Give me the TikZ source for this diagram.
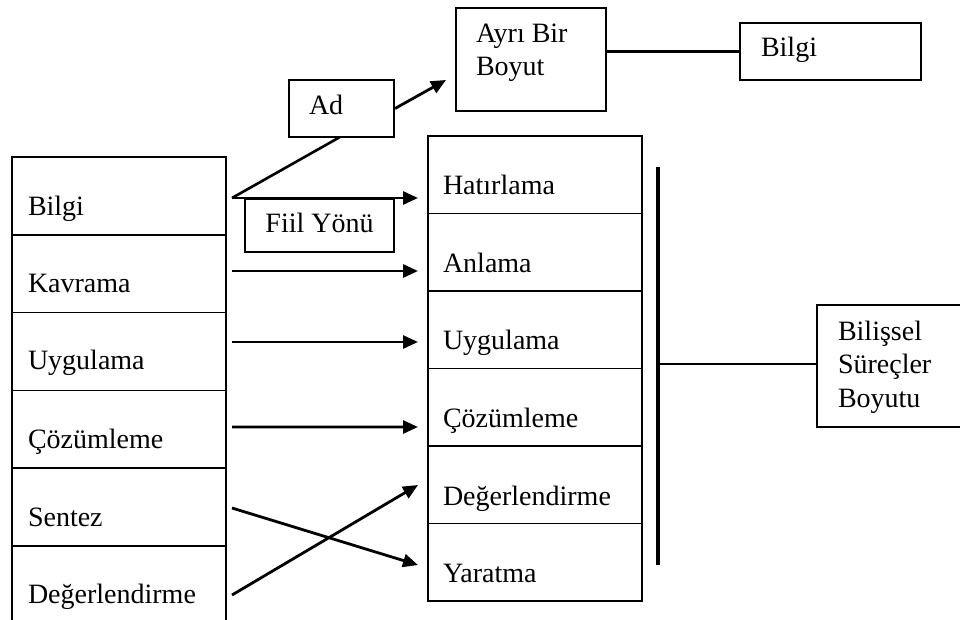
\documentclass[tikz,border=0pt]{standalone}
\usepackage{fontspec}
\setmainfont{Liberation Serif}
\usetikzlibrary{arrows.meta,calc}
\begin{document}
\begin{tikzpicture}[x=1pt,y=-1pt,
  box/.style={draw, line width=1.6pt, rectangle, inner sep=0pt, outer sep=0pt, anchor=north west},
  lcell/.style={box, minimum width=214pt, minimum height=77.8pt},
  rcell/.style={box, minimum width=214pt, minimum height=77.5pt},
  lbl/.style={anchor=base west, inner sep=0pt, outer sep=0pt, font=\fontsize{28}{33}\selectfont},
  arr/.style={line width=2.8pt, -{Triangle[length=15pt,width=13pt]}},
  conn/.style={line width=2.6pt},
  ]
\useasboundingbox (0,0) rectangle (960,620);

% left column
\node[lcell] (L1) at (12,157) {};
\node[lcell] (L2) at (12,234.8) {};
\node[lcell] (L3) at (12,312.6) {};
\node[lcell] (L4) at (12,390.4) {};
\node[lcell] (L5) at (12,468.2) {};
\node[lcell] (L6) at (12,546) {};
\node[lbl] (tL1) at ([shift={(16,58)}]L1.north west) {Bilgi};
\node[lbl] (tL2) at ([shift={(16,58)}]L2.north west) {Kavrama};
\node[lbl] (tL3) at ([shift={(16,57)}]L3.north west) {Uygulama};
\node[lbl] (tL4) at ([shift={(16,58)}]L4.north west) {Çözümleme};
\node[lbl] (tL5) at ([shift={(16,58)}]L5.north west) {Sentez};
\node[lbl] (tL6) at ([shift={(16,57)}]L6.north west) {Değerlendirme};

% right column
\node[rcell] (R1) at (428,136) {};
\node[rcell] (R2) at (428,213.5) {};
\node[rcell] (R3) at (428,291) {};
\node[rcell] (R4) at (428,368.5) {};
\node[rcell] (R5) at (428,446) {};
\node[rcell] (R6) at (428,523.5) {};
\node[lbl] (tR1) at ([shift={(15,59)}]R1.north west) {Hatırlama};
\node[lbl] (tR2) at ([shift={(15,59)}]R2.north west) {Anlama};
\node[lbl] (tR3) at ([shift={(15,58)}]R3.north west) {Uygulama};
\node[lbl] (tR4) at ([shift={(15,59)}]R4.north west) {Çözümleme};
\node[lbl] (tR5) at ([shift={(15,59)}]R5.north west) {Değerlendirme};
\node[lbl] (tR6) at ([shift={(15,59)}]R6.north west) {Yaratma};

% top boxes
\node[box, minimum width=150pt, minimum height=103pt] (Ayri) at (456,8) {};
\node[lbl] (tA1) at ([shift={(20,35)}]Ayri.north west) {Ayrı Bir};
\node[lbl] (tA2) at ([shift={(20,68)}]Ayri.north west) {Boyut};
\node[box, minimum width=181pt, minimum height=57pt] (BT) at (740,23) {};
\node[lbl] (tBT) at ([shift={(21,34)}]BT.north west) {Bilgi};
\node[box, minimum width=105pt, minimum height=57pt] (Ad) at (289,80) {};
\node[lbl] (tAd) at ([shift={(20,35)}]Ad.north west) {Ad};
\node[box, minimum width=149pt, minimum height=53pt] (Fiil) at (245,199) {};
\node[lbl, anchor=base] (tFiil) at ([shift={(0,34)}]Fiil.north) {Fiil Yönü};

% right box
\node[box, minimum width=160pt, minimum height=122pt] (BS) at (817,305) {};
\node[lbl] (tBS1) at ([shift={(21,35)}]BS.north west) {Bilişsel};
\node[lbl] (tBS2) at ([shift={(21,68)}]BS.north west) {Süreçler};
\node[lbl] (tBS3) at ([shift={(21,102)}]BS.north west) {Boyutu};

% connectors
\draw[conn] ([xshift=6pt,yshift=-2.1pt]L1.east) -- ([xshift=-1.5pt]Ad.south);
\draw[arr] ([xshift=1pt]Ad.east) -- ([xshift=-10pt,yshift=-20.5pt]Ayri.west);
\draw[conn] (Ayri.east |- BT.west) -- (BT.west);

\draw[arr] ([xshift=6pt,yshift=-2.1pt]L1.east) -- ([xshift=-10pt,yshift=-23.25pt]R1.west);
\draw[arr] ([xshift=6pt,yshift=2.7pt]L2.east) -- ([xshift=-10pt,yshift=-18.75pt]R2.west);
\draw[arr] ([xshift=6pt,yshift=9.5pt]L3.east) -- ([xshift=-10pt,yshift=-12.25pt]R3.west);
\draw[arr] ([xshift=6pt,yshift=2.3pt]L4.east) -- ([xshift=-10pt,yshift=-19.75pt]R4.west);
\draw[arr] ([xshift=6pt,yshift=-0.9pt]L5.east) -- ([xshift=-10pt,yshift=-2.75pt]R6.west);
\draw[arr] ([xshift=6pt,yshift=-10.1pt]L6.east) -- ([xshift=-10pt,yshift=-0.25pt]R5.west);

\coordinate (vt) at (658,167);
\coordinate (vb) at (658,565);
\draw[line width=3.4pt] (vt) -- (vb);
\draw[conn] ([yshift=2pt]BS.west) coordinate (h1) -- (vt |- h1);
\end{tikzpicture}
\end{document}
